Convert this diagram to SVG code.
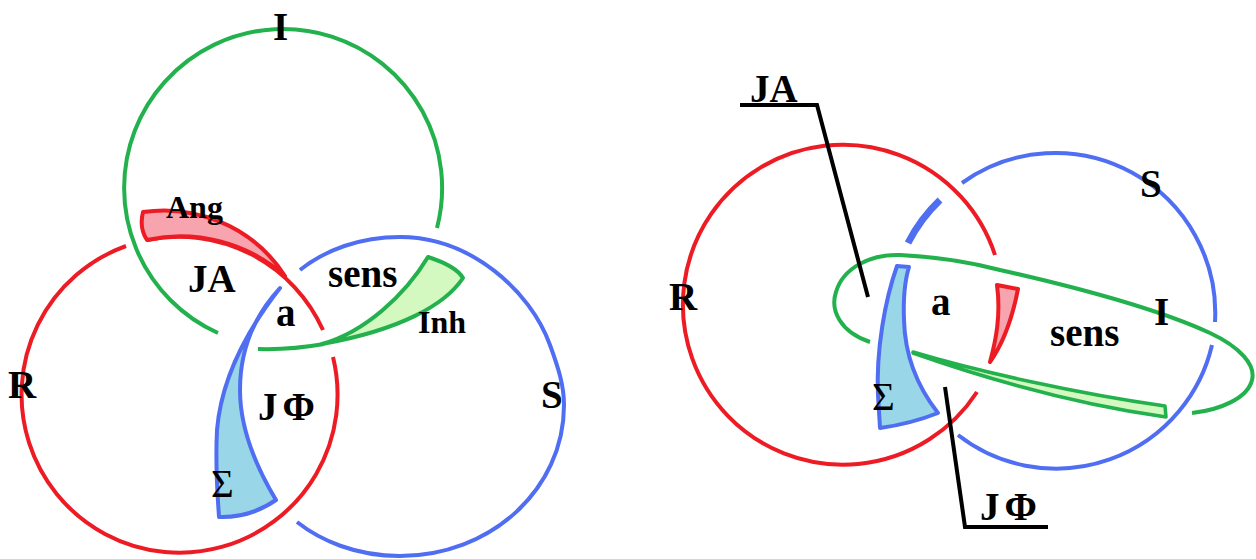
<svg xmlns="http://www.w3.org/2000/svg" width="1256" height="559" viewBox="0 0 1256 559">
<style>
.r{fill:none;stroke:#ed1c24;stroke-width:4;stroke-linecap:butt}
.g{fill:none;stroke:#22b14c;stroke-width:4}
.b{fill:none;stroke:#4f6ef2;stroke-width:4}
.rf{fill:#f8a4ae;stroke:#ed1c24;stroke-width:4;stroke-linejoin:round}
.gf{fill:#d3f8c0;stroke:#22b14c;stroke-width:4;stroke-linejoin:round}
.bf{fill:#99d6e8;stroke:#4f6ef2;stroke-width:4;stroke-linejoin:round}
.k{fill:none;stroke:#000;stroke-width:4;stroke-linejoin:miter}
text{font-family:"Liberation Serif","Times New Roman",serif;font-weight:bold;fill:#000}
.big{font-size:39px}
.sm{font-size:32px}
.sig{font-weight:normal;font-size:39px}
</style>
<rect width="1256" height="559" fill="#fff"/>

<!-- LEFT DIAGRAM -->
<g id="left-I">
<path class="g" d="M 218 333 A 159 159 0 1 1 437 228"/>
<path class="g" d="M 258 349 Q 290 350 324 344"/>
<path class="gf" d="M 322 344 C 365 332 405 295 428 257 Q 456 266 463 278 C 445 305 400 330 322 344 Z"/>
</g>
<g id="left-R">
<path class="r" d="M 333 357 A 158 158 0 1 1 126 246"/>
<path class="r" d="M 147 240 A 158 158 0 0 1 323 330"/>
<path class="rf" d="M 143 212 C 190 205 250 222 285 276 A 158 158 0 0 0 147 240 Q 139 228 143 212 Z"/>
</g>
<g id="left-S">
<path class="b" d="M 300 270 C 325 250 360 237 400 237 C 470 237 530 290 550 345 C 558 367 564 385 564 405 C 564 490 490 556 400 556 C 355 556 320 540 297 522"/>
<path class="bf" d="M 280 288 C 255 320 222 370 217 430 C 215 470 218 500 219 517 Q 250 518 276 500 C 258 470 240 430 240 390 C 240 350 255 315 280 288 Z"/>
</g>
<g id="left-labels">
<text class="big" x="273" y="40">I</text>
<text class="sm" x="166" y="218">Ang</text>
<text class="big" x="188" y="292">JA</text>
<text class="big" x="328" y="287">sens</text>
<text class="big" x="276" y="326">a</text>
<text class="sm" x="418" y="333">Inh</text>
<text class="big" x="8" y="398">R</text>
<text class="big" x="258" y="420">J<tspan dx="5">Φ</tspan></text>
<text class="sig" x="211" y="497">Σ</text>
<text class="big" x="541" y="408">S</text>
</g>

<!-- RIGHT DIAGRAM -->
<g id="right-R">
<path class="r" d="M 977 392 A 160 160 0 1 1 995 255"/>
<path class="rf" d="M 997 285 L 1018 289 C 1012 320 1002 345 990 362 C 996 340 1001 315 997 285 Z"/>
</g>
<g id="right-S">
<path class="b" d="M 962 183 A 160 160 0 0 1 1215 322"/>
<path class="b" d="M 1212 345 A 160 160 0 0 1 958 435"/>
<path class="b" style="stroke-width:7" d="M 940 200 A 160 160 0 0 0 908 243"/>
<path class="bf" d="M 897 266 C 885 300 876 350 878 395 L 880 428 Q 910 424 938 413 C 920 390 905 360 904 320 C 903 295 905 280 909 267 Z"/>
</g>
<g id="right-I">
<path class="g" d="M 870 342 C 840 332 830 310 836 292 C 843 268 870 254 900 255 C 940 257 970 262 1000 270 C 1080 288 1160 310 1210 333 C 1240 347 1256 365 1252 380 C 1248 398 1220 410 1192 413"/>
<path class="gf" style="stroke-width:3.5" d="M 913 352 C 980 372 1080 394 1165 406 L 1166 417 C 1080 405 990 380 913 353 Z"/>
</g>
<g id="connectors">
<path class="k" d="M 740 105 L 817 105 L 868 297"/>
<path class="k" d="M 945 387 L 965 527 L 1048 527"/>
</g>
<g id="right-labels">
<text class="big" x="750" y="102">JA</text>
<text class="big" x="669" y="310">R</text>
<text class="big" x="1140" y="197">S</text>
<text class="big" x="931" y="315">a</text>
<text class="big" x="1050" y="346">sens</text>
<text class="big" x="1154" y="325">I</text>
<text class="sig" x="872" y="410">Σ</text>
<text class="big" x="980" y="520">J<tspan dx="5">Φ</tspan></text>
</g>
</svg>
